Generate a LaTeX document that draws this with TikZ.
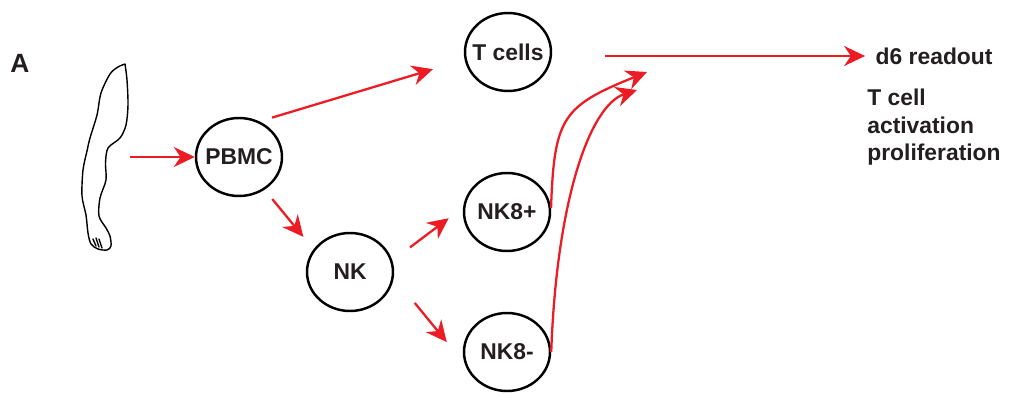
\documentclass[tikz,border=0pt]{standalone}
\usepackage{fontspec}
\setmainfont{Liberation Sans}
\usetikzlibrary{shapes.geometric, arrows.meta}
\definecolor{flowred}{RGB}{237,28,36}
\definecolor{inkgray}{RGB}{35,31,32}
\tikzset{
  % Cell population (slightly wide ellipse, text may fill it)
  cellnode/.style={
    ellipse, draw=black, line width=1.4pt, minimum width=1.72cm, minimum height=1.56cm,
    inner xsep=-4pt, inner ysep=0pt, font=\fontsize{13}{15.5}\selectfont\bfseries, text=inkgray
  },
  flowarrow/.style={-{Stealth[length=0.42cm, width=0.4cm]}, line width=1.3pt, color=flowred},
  readtext/.style={font=\fontsize{13}{15.5}\selectfont\bfseries, text=inkgray},
  armline/.style={line width=0.8pt, line join=round, line cap=round}
}

\begin{document}
\begin{tikzpicture}
  \useasboundingbox (0,0) rectangle (20.24,7.96);

  % Panel letter
  \node[readtext, font=\fontsize{15}{18}\selectfont\bfseries, anchor=base west, inner sep=0pt] (panel) at (0.20,6.52) {A};

  % Donor arm
  \draw[armline] plot[smooth, tension=0.5] coordinates {
    (2.50,6.68) (2.54,6.36) (2.56,5.86) (2.52,5.46) (2.40,5.20) (2.16,5.00)
    (2.11,4.70) (2.12,4.36) (2.00,4.00) (1.98,3.64) (2.12,3.40) (2.20,3.24)
    (2.22,3.04) (2.14,2.96) (1.96,2.98) (1.82,3.08) (1.76,3.30) (1.72,3.66)
    (1.64,4.04) (1.66,4.56) (1.74,4.94) (1.80,5.20) (1.94,5.66) (2.02,6.10)
    (2.20,6.48) (2.36,6.62) (2.50,6.68)};
  \draw[armline] (1.86,3.18) -- (1.92,3.04);
  \draw[armline] (1.92,3.20) -- (1.98,3.02);
  \draw[armline] (1.98,3.18) -- (2.04,3.00);
  \coordinate (arm) at (2.60,4.82);

  % Cell populations
  \node[cellnode] (pbmc)   at (4.78,4.82) {PBMC};
  \node[cellnode] (nk)     at (7.00,2.52) {NK};
  \node[cellnode] (tcells) at (10.16,6.92) {T cells};
  \node[cellnode] (nk8p)   at (10.14,3.72) {NK8+};
  \node[cellnode] (nk8m)   at (10.14,0.92) {NK8-};

  % Separation steps
  \draw[flowarrow] (arm) -- (pbmc);
  \draw[flowarrow, shorten <=0.26cm, shorten >=0.66cm] (pbmc.60) -- (tcells.190);
  \draw[flowarrow, shorten <=0.24cm, shorten >=0.32cm] (pbmc.308) -- (nk.148);
  \draw[flowarrow, shorten <=0.44cm, shorten >=0.36cm] (nk.15) -- (nk8p.174);
  \draw[flowarrow, shorten <=0.66cm, shorten >=0.57cm] (nk.353) -- (nk8m.196);

  % Co-culture back with T cells
  \coordinate (in1) at (12.94,6.52);
  \coordinate (in2) at (12.74,6.16);
  \draw[flowarrow] (nk8p.5) .. controls +(88:1.82) and +(202:1.82) .. (in1);
  \draw[flowarrow] (nk8m.east) .. controls +(88:3.04) and +(198:0.99) .. (in2);

  % Readout
  \coordinate (merge) at (12.10,6.84);
  \node[readtext, anchor=west] (readout) at (17.39,6.84) {d6 readout};
  \draw[flowarrow, shorten >=2.5pt] (merge) -- (readout);
  \node[readtext, align=left, anchor=north west, inner sep=0pt] (outcome) at (17.34,6.18)
    {T cell\\activation\\proliferation};
\end{tikzpicture}
\end{document}
